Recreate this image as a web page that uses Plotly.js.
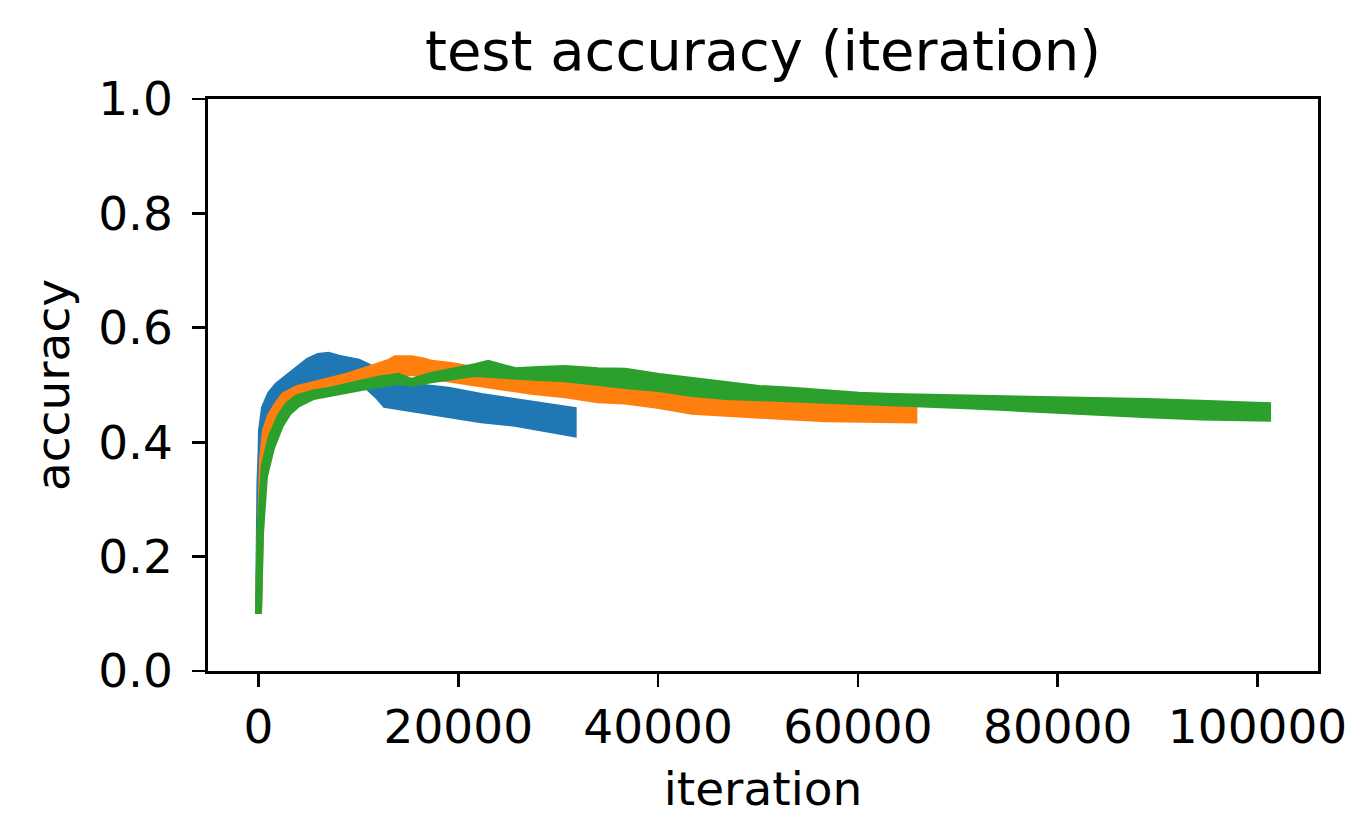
<!DOCTYPE html>
<html>
<head>
<meta charset="utf-8">
<script src="https://cdn.plot.ly/plotly-3.0.1.min.js"></script>
<style>html,body{margin:0;padding:0;background:#fff;}#chart{width:1353px;height:816px;}</style>
</head>
<body>
<div id="chart"></div>
<script>
// Series: iteration positions and the upper / lower
// envelope of each noisy test-accuracy curve.
const blueX  = [0, 150, 300, 600, 1200, 1900, 2900, 3900, 5000, 6000, 7000, 8000, 9000, 10000, 11000, 12000, 12700, 15700, 19000, 22300, 25700, 29000, 31500];
const blueHi = [0.10, 0.33, 0.42, 0.46, 0.484, 0.499, 0.514, 0.529, 0.542, 0.550, 0.552, 0.547, 0.544, 0.540, 0.532, 0.520, 0.503, 0.497, 0.491, 0.480, 0.471, 0.462, 0.456];
const blueLo = [0.10, 0.33, 0.40, 0.436, 0.456, 0.471, 0.486, 0.496, 0.506, 0.511, 0.516, 0.516, 0.511, 0.506, 0.496, 0.480, 0.466, 0.459, 0.448, 0.439, 0.433, 0.424, 0.415];

const orangeX  = [0, 200, 400, 700, 1200, 1900, 2600, 3900, 5500, 7200, 9000, 10600, 12000, 13000, 13700, 15300, 16500, 17300, 19300, 20700, 22300, 24000, 27300, 30700, 34000, 36700, 40100, 43400, 46800, 50100, 53400, 56800, 60100, 63500, 65600];
const orangeHi = [0.10, 0.28, 0.37, 0.42, 0.446, 0.466, 0.482, 0.494, 0.502, 0.508, 0.516, 0.524, 0.532, 0.539, 0.546, 0.546, 0.542, 0.538, 0.534, 0.529, 0.524, 0.519, 0.512, 0.506, 0.499, 0.496, 0.489, 0.479, 0.474, 0.471, 0.467, 0.464, 0.462, 0.460, 0.460];
const orangeLo = [0.10, 0.26, 0.35, 0.40, 0.428, 0.448, 0.466, 0.476, 0.484, 0.491, 0.496, 0.501, 0.506, 0.511, 0.520, 0.522, 0.519, 0.515, 0.509, 0.506, 0.501, 0.497, 0.489, 0.483, 0.474, 0.472, 0.464, 0.454, 0.451, 0.448, 0.444, 0.441, 0.440, 0.439, 0.439];

const greenX  = [0, 200, 600, 1300, 2200, 3000, 3900, 5500, 7200, 9000, 10600, 12000, 14000, 15300, 17300, 19000, 20700, 21700, 23000, 24000, 25700, 28000, 30700, 34000, 36700, 40100, 43400, 46800, 50100, 53400, 56800, 60100, 63500, 66900, 70200, 74200, 79000, 84200, 89000, 94300, 98000, 101000];
const greenHi = [0.10, 0.26, 0.36, 0.41, 0.446, 0.466, 0.478, 0.486, 0.491, 0.499, 0.506, 0.510, 0.515, 0.506, 0.517, 0.522, 0.527, 0.532, 0.538, 0.534, 0.525, 0.527, 0.529, 0.525, 0.524, 0.515, 0.508, 0.499, 0.494, 0.491, 0.485, 0.482, 0.480, 0.479, 0.478, 0.477, 0.475, 0.473, 0.471, 0.468, 0.466, 0.464];
const greenLo = [0.10, 0.24, 0.34, 0.39, 0.430, 0.452, 0.466, 0.480, 0.486, 0.491, 0.497, 0.501, 0.506, 0.503, 0.509, 0.512, 0.518, 0.520, 0.520, 0.517, 0.515, 0.513, 0.511, 0.505, 0.499, 0.494, 0.485, 0.480, 0.476, 0.473, 0.471, 0.469, 0.468, 0.466, 0.464, 0.461, 0.458, 0.453, 0.448, 0.444, 0.442, 0.442];

const xTickVals = [0, 20000, 40000, 60000, 80000, 100000];
const xTickText = ['0', '20000', '40000', '60000', '80000', '100000'];
const yTickVals = [0, 0.2, 0.4, 0.6, 0.8, 1.0];
const yTickText = ['0.0', '0.2', '0.4', '0.6', '0.8', '1.0'];

function band(xs, hi, lo, color) {
  const x = xs.concat(xs.slice().reverse());
  const y = hi.concat(lo.slice().reverse());
  return {
    type: 'scatter', mode: 'lines', x: x, y: y,
    fill: 'toself', fillcolor: color,
    line: {color: color, width: 7},
    hoverinfo: 'skip', showlegend: false
  };
}

const data = [
  band(blueX, blueHi, blueLo, '#1f77b4'),
  band(orangeX, orangeHi, orangeLo, '#ff7f0e'),
  band(greenX, greenHi, greenLo, '#2ca02c')
];

const font = 'DejaVu Sans, sans-serif';
const axisCommon = {
  showgrid: false, zeroline: false,
  showline: true, linecolor: '#000', linewidth: 2.7, mirror: true,
  ticks: 'outside', ticklen: 13, tickwidth: 2.7, tickcolor: '#000',
  tickfont: {family: font, size: 47, color: '#000'}
};

const layout = {
  width: 1353, height: 816,
  paper_bgcolor: '#fff', plot_bgcolor: '#fff',
  margin: {l: 208, r: 35, t: 99, b: 145},
  font: {family: font, color: '#000'},
  title: {
    text: 'test accuracy (iteration)',
    font: {family: font, size: 56, color: '#000'},
    xref: 'paper', x: 0.5, xanchor: 'center',
    yref: 'container', y: 1 - 50 / 816, yanchor: 'middle'
  },
  xaxis: Object.assign({}, axisCommon, {
    range: [-5050, 106050],
    tickmode: 'array', tickvals: xTickVals, ticktext: xTickText,
    ticklabelstandoff: 0,
    title: {text: 'iteration', font: {family: font, size: 47, color: '#000'}, standoff: 24}
  }),
  yaxis: Object.assign({}, axisCommon, {
    range: [0, 1],
    tickmode: 'array', tickvals: yTickVals, ticktext: yTickText,
    ticklabelstandoff: 10,
    title: {text: 'accuracy', font: {family: font, size: 47, color: '#000'}, standoff: 14}
  })
};

Plotly.newPlot('chart', data, layout, {displayModeBar: false, staticPlot: true});
</script>
</body>
</html>
